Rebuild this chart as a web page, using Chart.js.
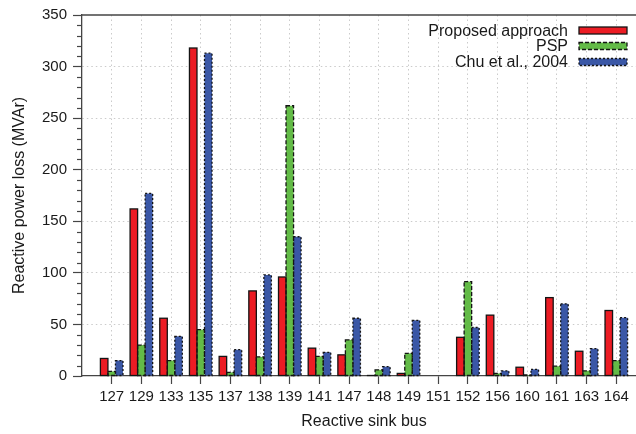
<!DOCTYPE html>
<html>
<head>
<meta charset="utf-8">
<script src="https://cdn.jsdelivr.net/npm/chart.js@4"></script>
<style>
  html, body { margin: 0; padding: 0; overflow: hidden; background: #fff; }
  canvas { display: block; }
</style>
</head>
<body>
<canvas id="chart" width="650" height="434"></canvas>
<script>
// Reactive sink buses and the reactive power loss (MVAr) of each method
const busLabels = ['127','129','133','135','137','138','139','141','147','148','149','151','152','156','160','161','163','164'];
const proposedLoss = [17, 162, 56, 318, 19, 82.5, 96, 27, 20.5, 0.5, 2.5, 0, 37.5, 59, 8.5, 76, 24, 63.5];
const pspLoss      = [4.5, 30, 15, 45, 3.5, 18.5, 262, 19, 35, 6, 22, 0, 91.5, 2.5, 1, 9.5, 5, 15];
const chuLoss      = [15, 177, 38.5, 313, 25.5, 98, 135, 23, 56, 9, 54, 0, 47, 5, 6.5, 70, 26.5, 56.5];
const seriesNames  = ['Proposed approach', 'PSP', 'Chu et al., 2004'];

const FONT = "'Liberation Sans', Arial, Helvetica, sans-serif";
const AXIS = '#454545';
const GRID = '#cbcbcb';

const toPoints = arr => arr.map((v, i) => ({ x: i + 1, y: v }));

// Outlines (solid / dashed / dotted), minor y ticks, top frame line and legend
const decorations = {
  id: 'decorations',
  afterDatasetsDraw(chart) {
    const ctx = chart.ctx;
    chart.data.datasets.forEach((ds, di) => {
      const meta = chart.getDatasetMeta(di);
      meta.data.forEach((el, i) => {
        if (!ds.data[i].y) return;
        const p = el.getProps(['x', 'y', 'base', 'width'], true);
        ctx.save();
        ctx.strokeStyle = '#141414';
        ctx.lineWidth = 1.3;
        ctx.setLineDash(ds.outlineDash);
        ctx.strokeRect(p.x - p.width / 2, p.y, p.width, p.base - p.y);
        ctx.restore();
      });
    });
  },
  afterDraw(chart) {
    const ctx = chart.ctx;
    const area = chart.chartArea;
    const y = chart.scales.y;
    ctx.save();
    // minor ticks every 10 MVAr
    ctx.strokeStyle = AXIS;
    ctx.lineWidth = 1.2;
    for (let v = 10; v < 350; v += 10) {
      if (v % 50 === 0) continue;
      const py = Math.round(y.getPixelForValue(v)) + 0.5;
      ctx.beginPath();
      ctx.moveTo(area.left - 5, py);
      ctx.lineTo(area.left, py);
      ctx.stroke();
    }
    // top frame line
    ctx.lineWidth = 1.3;
    ctx.beginPath();
    ctx.moveTo(area.left, area.top);
    ctx.lineTo(area.right, area.top);
    ctx.stroke();

    // legend: label on the left, swatch on the right
    ctx.font = '16px ' + FONT;
    ctx.textAlign = 'right';
    ctx.textBaseline = 'middle';
    const rows = [30.5, 46, 62];
    chart.data.datasets.forEach((ds, di) => {
      const cy = rows[di];
      ctx.fillStyle = '#1a1a1a';
      ctx.fillText(ds.label, 568, cy + 1);
      ctx.fillStyle = ds.backgroundColor;
      ctx.fillRect(579, cy - 3.5, 48, 7);
      ctx.strokeStyle = '#141414';
      ctx.lineWidth = 1.3;
      ctx.setLineDash(ds.outlineDash);
      ctx.strokeRect(579, cy - 3.5, 48, 7);
      ctx.setLineDash([]);
    });
    ctx.restore();
  }
};

new Chart(document.getElementById('chart'), {
  type: 'bar',
  data: {
    datasets: [
      { label: seriesNames[0], data: toPoints(proposedLoss), backgroundColor: '#ec1c24', outlineDash: [] },
      { label: seriesNames[1], data: toPoints(pspLoss),      backgroundColor: '#63bb47', outlineDash: [4, 2] },
      { label: seriesNames[2], data: toPoints(chuLoss),      backgroundColor: '#3a57a6', outlineDash: [2, 2] }
    ]
  },
  options: {
    responsive: false,
    animation: false,
    layout: { padding: { top: 13, right: 3, left: 0, bottom: 0 } },
    datasets: { bar: { categoryPercentage: 0.76, barPercentage: 1.0, borderWidth: 0 } },
    plugins: { legend: { display: false }, tooltip: { enabled: false } },
    scales: {
      x: {
        type: 'linear',
        min: 0,
        max: 19,
        offset: false,
        afterFit: s => { s.height = 58; },
        ticks: {
          stepSize: 1,
          autoSkip: false,
          maxRotation: 0,
          padding: 4,
          color: '#1a1a1a',
          font: { family: FONT, size: 15 },
          callback: v => busLabels[v - 1] ?? ''
        },
        grid: {
          offset: false,
          color: c => (c.tick && c.tick.value >= 1 && c.tick.value <= 18) ? GRID : 'rgba(0,0,0,0)',
          tickColor: c => (c.tick && c.tick.value >= 1 && c.tick.value <= 18) ? AXIS : 'rgba(0,0,0,0)',
          lineWidth: 1,
          tickLength: 8,
          tickWidth: 1.2
        },
        border: { color: AXIS, width: 1.3, dash: [1.5, 3] },
        title: {
          display: true,
          text: 'Reactive sink bus',
          color: '#1a1a1a',
          font: { family: FONT, size: 16 },
          padding: { top: 0, bottom: 3 }
        }
      },
      y: {
        min: 0,
        max: 350,
        afterFit: s => { s.width = 82; },
        ticks: {
          stepSize: 50,
          padding: 6,
          color: '#1a1a1a',
          font: { family: FONT, size: 15 }
        },
        grid: {
          color: c => (c.tick && c.tick.value > 0 && c.tick.value < 350) ? GRID : 'rgba(0,0,0,0)',
          tickColor: AXIS,
          lineWidth: 1,
          tickLength: 9,
          tickWidth: 1.2
        },
        border: { color: AXIS, width: 1.3, dash: [1.5, 3] },
        title: {
          display: true,
          text: 'Reactive power loss (MVAr)',
          color: '#1a1a1a',
          font: { family: FONT, size: 16 },
          padding: { top: 10, bottom: 0 }
        }
      }
    }
  },
  plugins: [decorations]
});
</script>
</body>
</html>
